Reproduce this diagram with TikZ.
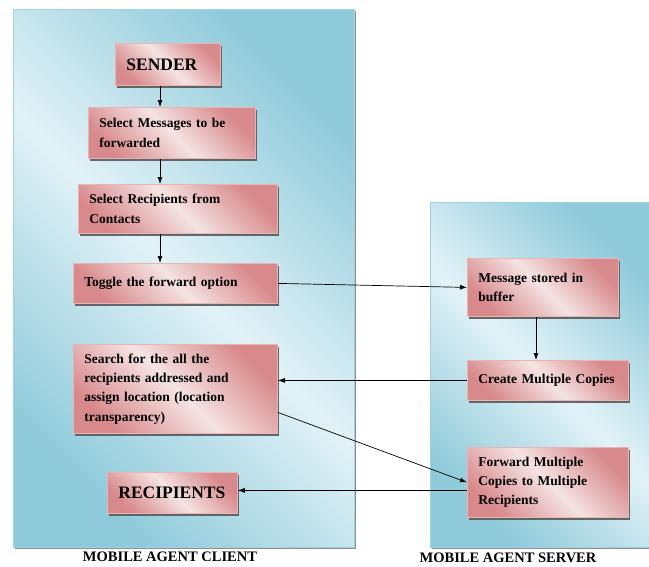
\documentclass[tikz,border=0pt]{standalone}
\usepackage{fontspec}
\setmainfont{Liberation Serif}
\usetikzlibrary{arrows.meta,shadows}
\definecolor{paneldark}{HTML}{8ECADA}
\definecolor{panellight}{HTML}{E2F2F7}
\definecolor{panelborder}{HTML}{9FD3E1}
\definecolor{boxdark}{HTML}{D8898B}
\definecolor{boxlight}{HTML}{F5E3E3}
\definecolor{boxborder}{HTML}{E8B5B5}
\begin{document}
\begin{tikzpicture}[x=1pt,y=-1pt,
  panel/.style={draw=panelborder, line width=0.8pt, anchor=north west, inner sep=0pt,
    top color=paneldark, bottom color=paneldark, middle color=panellight, shading angle=-45,
    drop shadow={shadow xshift=1.5pt, shadow yshift=-2pt, fill=black!55, opacity=0.8}},
  stepbox/.style={draw=boxborder, line width=0.8pt, anchor=north west,
    inner xsep=11pt, inner ysep=0pt, align=left,
    top color=boxdark, bottom color=boxdark, middle color=boxlight, shading angle=-45,
    drop shadow={shadow xshift=2pt, shadow yshift=-2.5pt, fill=black!65, opacity=0.9},
    font=\bfseries\fontsize{13.5}{19.3}\selectfont},
  bigtext/.style={font=\bfseries\fontsize{17.5}{21}\selectfont},
  caption/.style={font=\bfseries\fontsize{14.5}{17}\selectfont},
  arr/.style={draw=black, line width=0.7pt, -{Latex[length=7pt,width=5pt]}}]
\useasboundingbox (0,0) rectangle (649,566);
% panels
\node[panel, minimum width=341pt, minimum height=538pt] (client) at (13,9) {};
\node[panel, minimum width=224pt, minimum height=345pt] (server) at (430,202) {};
% captions
\node[caption] (clientcap) at (170,557) {MOBILE AGENT CLIENT};
\node[caption] (servercap) at (508,558) {MOBILE AGENT SERVER};
% client boxes
\node[stepbox, bigtext, minimum width=105pt, minimum height=42pt, text width=83pt] (sender) at (115,43) {SENDER};
\node[stepbox, minimum width=167pt, minimum height=51pt, text width=145pt] (selmsg) at (88,107) {Select Messages to be\\forwarded};
\node[stepbox, minimum width=199pt, minimum height=49pt, text width=177pt] (selrec) at (78,184) {Select Recipients from\\Contacts};
\node[stepbox, minimum width=204pt, minimum height=40pt, text width=182pt] (toggle) at (73,263) {Toggle the forward option};
\node[stepbox, minimum width=204pt, minimum height=89pt, text width=182pt] (search) at (73,344) {Search for the all the\\recipients addressed and\\assign location (location\\transparency)};
\node[stepbox, bigtext, minimum width=130pt, minimum height=41pt, text width=108pt] (recip) at (107,472) {RECIPIENTS};
% server boxes
\node[stepbox, minimum width=151pt, minimum height=58pt, text width=129pt] (msg) at (467,258) {Message stored in\\buffer};
\node[stepbox, minimum width=161pt, minimum height=40pt, text width=139pt] (create) at (467,360) {Create Multiple Copies};
\node[stepbox, minimum width=161pt, minimum height=70pt, text width=139pt] (fwd) at (467,447) {Forward Multiple\\Copies to Multiple\\Recipients};
% helper coordinates
\coordinate (ax) at (160,0);
\coordinate (bx) at (536,0);
% vertical arrows
\draw[arr] (sender.south -| ax) -- (selmsg.north -| ax);
\draw[arr] (selmsg.south -| ax) -- (selrec.north -| ax);
\draw[arr] (selrec.south -| ax) -- (toggle.north -| ax);
\draw[arr] (msg.south -| bx) -- (create.north -| bx);
% cross arrows
\draw[arr] (toggle.east) -- (msg.west);
\draw[arr] (create.west) -- (create.west -| search.east);
\draw[arr] ([yshift=-23.5pt]search.east) -- (fwd.west);
\draw[arr] ([yshift=-8pt]fwd.west) -- ([yshift=-8pt]fwd.west -| recip.east);
\end{tikzpicture}
\end{document}
